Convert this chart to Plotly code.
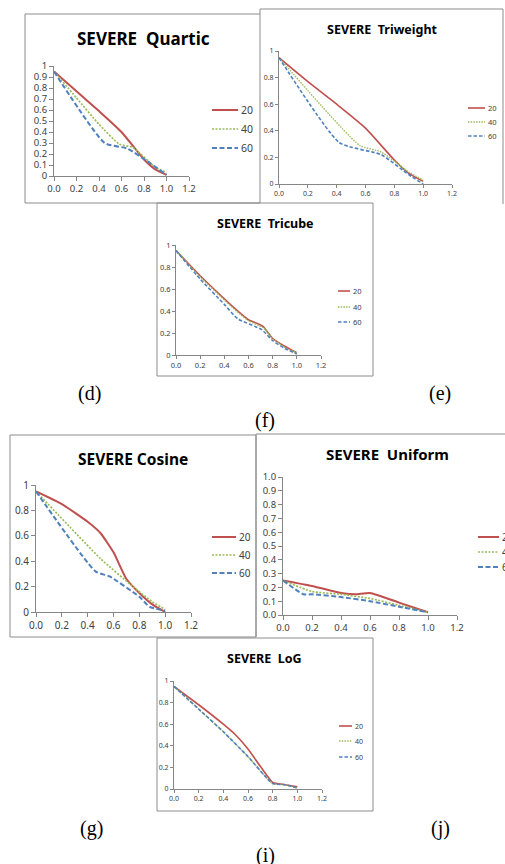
import plotly.graph_objects as go

W, H = 505, 864

# ---------------- data ----------------
series_names = ["20", "40", "60"]

quartic_x20 = [0, 0.2, 0.4, 0.6, 0.8, 0.9, 1.0]
quartic_y20 = [0.95, 0.77, 0.59, 0.40, 0.15, 0.06, 0.01]
quartic_x40 = [0, 0.2, 0.4, 0.58, 0.7, 0.9, 1.0]
quartic_y40 = [0.95, 0.71, 0.47, 0.29, 0.26, 0.08, 0.03]
quartic_x60 = [0, 0.45, 0.65, 0.85, 1.0]
quartic_y60 = [0.95, 0.30, 0.25, 0.12, 0.01]

triweight_x20 = [0, 0.2, 0.4, 0.6, 0.8, 0.9, 1.0]
triweight_y20 = [0.95, 0.77, 0.60, 0.42, 0.18, 0.08, 0.02]
triweight_x40 = [0, 0.56, 0.71, 0.9, 1.0]
triweight_y40 = [0.95, 0.29, 0.24, 0.09, 0.03]
triweight_x60 = [0, 0.42, 0.71, 0.9, 1.0]
triweight_y60 = [0.95, 0.31, 0.22, 0.07, 0.0]

tricube_x = [0, 0.2, 0.4, 0.5, 0.6, 0.72, 0.8, 0.9, 1.0]
tricube_y20 = [0.95, 0.72, 0.51, 0.41, 0.32, 0.26, 0.15, 0.08, 0.02]
tricube_y40 = [0.95, 0.71, 0.50, 0.40, 0.31, 0.25, 0.15, 0.07, 0.02]
tricube_x60 = [0, 0.2, 0.4, 0.51, 0.71, 0.8, 0.9, 1.0]
tricube_y60 = [0.95, 0.69, 0.46, 0.33, 0.23, 0.13, 0.06, 0.01]

cosine_x20 = [0, 0.2, 0.4, 0.5, 0.6, 0.7, 0.8, 0.9, 1.0]
cosine_y20 = [0.95, 0.85, 0.71, 0.62, 0.47, 0.26, 0.15, 0.06, 0.0]
cosine_x40 = [0, 0.5, 0.75, 0.9, 1.0]
cosine_y40 = [0.95, 0.42, 0.20, 0.08, 0.02]
cosine_x60 = [0, 0.46, 0.57, 0.8, 0.88, 1.0]
cosine_y60 = [0.95, 0.32, 0.28, 0.12, 0.04, 0.01]

uniform_x20 = [0, 0.2, 0.4, 0.5, 0.6, 0.8, 1.0]
uniform_y20 = [0.25, 0.21, 0.16, 0.15, 0.16, 0.09, 0.02]
uniform_x40 = [0, 0.2, 0.4, 0.6, 0.8, 1.0]
uniform_y40 = [0.25, 0.17, 0.15, 0.12, 0.07, 0.02]
uniform_x60 = [0, 0.14, 0.2, 0.4, 0.6, 0.8, 1.0]
uniform_y60 = [0.25, 0.15, 0.15, 0.13, 0.10, 0.06, 0.02]

log_x20 = [0, 0.2, 0.4, 0.5, 0.6, 0.7, 0.8, 0.9, 1.0]
log_y20 = [0.95, 0.78, 0.60, 0.50, 0.37, 0.21, 0.06, 0.04, 0.02]
log_x = [0, 0.2, 0.4, 0.6, 0.8, 0.9, 1.0]
log_y40 = [0.95, 0.74, 0.53, 0.30, 0.05, 0.04, 0.01]
log_y60 = [0.95, 0.74, 0.53, 0.30, 0.05, 0.04, 0.01]

x_ticks = [0.0, 0.2, 0.4, 0.6, 0.8, 1.0, 1.2]

# ---------------- styling ----------------
COLORS = ["#C0504D", "#9BBB59", "#4F81BD"]
AXC = "#868686"
TXT = "#404040"
FONT = "Noto Sans"


def px(x):
    return x / W


def py(y):
    return 1 - y / H


def dashes(big):
    if big:
        return ["solid", "2px,1.5px", "5px,2.5px"]
    return ["solid", "1.5px,1.2px", "3.5px,2px"]


panels = [
    dict(title="SEVERE\u00a0 Quartic", tsize=17, tpos=(143, 39),
         xd=(54, 189), yd=(176, 66), ydt=0.1, yfmt="", fs=9.5, lw=2.0, big=True,
         series=[(quartic_x20, quartic_y20), (quartic_x40, quartic_y40), (quartic_x60, quartic_y60)],
         leg=dict(x0=212, x1=238, ys=(110, 129, 148), fs=10.5)),
    dict(title="SEVERE\u00a0 Triweight", tsize=12.5, tpos=(382, 30),
         xd=(279, 452), yd=(184, 51), ydt=0.2, yfmt="", fs=7, lw=1.6, big=False,
         series=[(triweight_x20, triweight_y20), (triweight_x40, triweight_y40), (triweight_x60, triweight_y60)],
         leg=dict(x0=468, x1=485, ys=(108, 122, 136), fs=7.5)),
    dict(title="SEVERE\u00a0 Tricube", tsize=12.5, tpos=(265, 223),
         xd=(176, 321), yd=(355, 245), ydt=0.2, yfmt="", fs=7.5, lw=1.6, big=False,
         series=[(tricube_x, tricube_y20), (tricube_x, tricube_y40), (tricube_x60, tricube_y60)],
         leg=dict(x0=338, x1=350, ys=(291, 307, 322), fs=7.5)),
    dict(title="SEVERE Cosine", tsize=15.5, tpos=(133, 459),
         xd=(36, 191), yd=(612, 485), ydt=0.2, yfmt="", fs=10, lw=2.0, big=True,
         series=[(cosine_x20, cosine_y20), (cosine_x40, cosine_y40), (cosine_x60, cosine_y60)],
         leg=dict(x0=212, x1=236, ys=(537, 555, 573), fs=10)),
    dict(title="SEVERE\u00a0 Uniform", tsize=15, tpos=(387, 454),
         xd=(283, 457), yd=(615, 477), ydt=0.1, yfmt=".1f", fs=9.5, lw=2.0, big=True,
         series=[(uniform_x20, uniform_y20), (uniform_x40, uniform_y40), (uniform_x60, uniform_y60)],
         leg=dict(x0=478, x1=499, ys=(537, 552, 567), fs=10)),
    dict(title="SEVERE\u00a0 LoG", tsize=12.5, tpos=(264, 658),
         xd=(174, 322), yd=(789, 681), ydt=0.2, yfmt="", fs=7, lw=1.6, big=False,
         series=[(log_x20, log_y20), (log_x, log_y40), (log_x, log_y60)],
         leg=dict(x0=339, x1=352, ys=(726, 741, 757), fs=7)),
]

fig = go.Figure()
layout = dict(
    width=W, height=H,
    margin=dict(l=0, r=0, t=0, b=0, autoexpand=False),
    paper_bgcolor="white", plot_bgcolor="white",
    showlegend=False,
    font=dict(family=FONT, color=TXT),
)
shapes = []
annotations = []

for i, p in enumerate(panels):
    n = i + 1
    xa = "x" if n == 1 else f"x{n}"
    ya = "y" if n == 1 else f"y{n}"
    xkey = "xaxis" if n == 1 else f"xaxis{n}"
    ykey = "yaxis" if n == 1 else f"yaxis{n}"
    tl = 4 if p["big"] else 3
    layout[xkey] = dict(
        domain=[px(p["xd"][0]), px(p["xd"][1])], anchor=ya, range=[0, 1.2],
        tickmode="array", tickvals=x_ticks, ticktext=[f"{v:.1f}" for v in x_ticks],
        showline=True, linecolor=AXC, linewidth=1, ticks="outside", ticklen=tl,
        tickcolor=AXC, showgrid=False, zeroline=False,
        tickfont=dict(size=p["fs"], color=TXT, family=FONT), fixedrange=True,
    )
    layout[ykey] = dict(
        domain=[py(p["yd"][0]), py(p["yd"][1])], anchor=xa, range=[0, 1],
        tick0=0, dtick=p["ydt"], tickformat=p["yfmt"],
        showline=True, linecolor=AXC, linewidth=1, ticks="outside", ticklen=tl,
        tickcolor=AXC, showgrid=False, zeroline=False,
        tickfont=dict(size=p["fs"], color=TXT, family=FONT), fixedrange=True,
    )
    ds = dashes(p["big"])
    for k, (sx, sy) in enumerate(p["series"]):
        w = p["lw"] if k != 1 else p["lw"] * 0.85
        fig.add_trace(go.Scatter(
            x=sx, y=sy, mode="lines", name=series_names[k], xaxis=xa, yaxis=ya,
            line=dict(color=COLORS[k], dash=ds[k], width=w, shape="spline", smoothing=0.5),
        ))
        lg = p["leg"]
        yy = py(lg["ys"][k])
        shapes.append(dict(type="line", xref="paper", yref="paper",
                           x0=px(lg["x0"]), x1=px(lg["x1"]), y0=yy, y1=yy,
                           line=dict(color=COLORS[k], dash=ds[k], width=w)))
        annotations.append(dict(text=series_names[k], xref="paper", yref="paper",
                                x=px(lg["x1"] + 1), y=yy, xanchor="left", yanchor="middle",
                                showarrow=False, font=dict(size=lg["fs"], color=TXT, family=FONT)))
    annotations.append(dict(text=f"<b>{p['title']}</b>", xref="paper", yref="paper",
                            x=px(p["tpos"][0]), y=py(p["tpos"][1]), xanchor="center", yanchor="middle",
                            showarrow=False, font=dict(size=p["tsize"], color="black", family=FONT)))

# frames around each chart picture
BOX = "#8C8C8C"


def seg(x0, y0, x1, y1):
    shapes.append(dict(type="line", xref="paper", yref="paper",
                       x0=px(x0), y0=py(y0), x1=px(x1), y1=py(y1),
                       line=dict(color=BOX, width=1)))


def rect(x0, y0, x1, y1):
    seg(x0, y0, x1, y0)
    seg(x1, y0, x1, y1)
    seg(x1, y1, x0, y1)
    seg(x0, y1, x0, y0)


rect(25, 14, 260, 203)          # Quartic
seg(260, 9, 503, 9)             # Triweight
seg(260, 9, 260, 14)
seg(503, 9, 503, 204)
rect(157, 203, 373, 376)        # Tricube
rect(10, 435, 256, 637)         # Cosine
seg(256, 434, 505, 434)         # Uniform
seg(256, 434, 256, 637)
rect(157, 638, 373, 811)        # LoG

# panel captions
captions = [("(d)", 89, 393), ("(e)", 440, 393), ("(f)", 265, 420),
            ("(g)", 91, 828), ("(j)", 440, 828), ("(i)", 265, 855)]
for t, cx, cy in captions:
    annotations.append(dict(text=t, xref="paper", yref="paper", x=px(cx), y=py(cy),
                            xanchor="center", yanchor="middle", showarrow=False,
                            font=dict(size=20, color="black", family="Liberation Serif")))

layout["shapes"] = shapes
layout["annotations"] = annotations
fig.update_layout(**layout)
fig.write_html(
    "out.html",
    config={"displayModeBar": False},
    post_script="document.body.style.margin='0';document.documentElement.style.overflow='hidden';",
)
